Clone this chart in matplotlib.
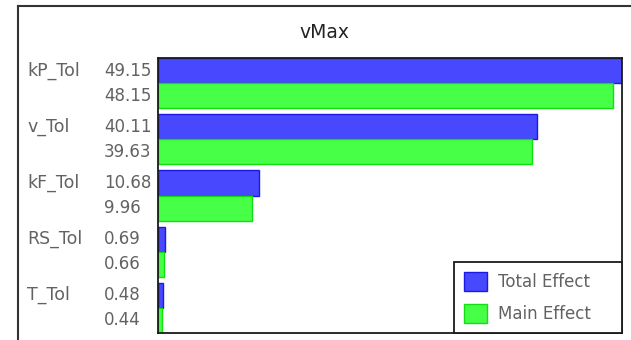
import matplotlib.pyplot as plt
import matplotlib.transforms as mtransforms
from matplotlib.patches import Patch
from matplotlib.lines import Line2D
import numpy as np

params = ['kP_Tol', 'v_Tol', 'kF_Tol', 'RS_Tol', 'T_Tol']
total_effect = [49.15, 40.11, 10.68, 0.69, 0.48]
main_effect = [48.15, 39.63, 9.96, 0.66, 0.44]

W, H = 631, 340
fig = plt.figure(figsize=(W / 100, H / 100), dpi=100)
plt.rcParams['font.family'] = 'DejaVu Sans'

# plot area in pixels: left 158, right 622, top 58, bottom 333
ax = fig.add_axes([158 / W, 1 - 333 / H, (622 - 158) / W, (333 - 58) / H])

bar_h = 25 / 56
pos = np.arange(len(params))
blue, blue_edge = '#4848ff', '#1a1ae6'
green, green_edge = '#48ff48', '#10e010'
ax.barh(pos, total_effect, height=bar_h, align='edge',
        color=blue, edgecolor=blue_edge, linewidth=1)
ax.barh(pos + bar_h, main_effect, height=bar_h, align='edge',
        color=green, edgecolor=green_edge, linewidth=1)

ax.set_xlim(0, max(total_effect))
ax.set_ylim(len(params) - 1 + 2 * bar_h, 0)
ax.set_xticks([])
ax.set_yticks([])
for s in ax.spines.values():
    s.set_color('#1a1a1a')
    s.set_linewidth(1.3)

# row labels on the left, names and values in two columns
gray = '#626262'
fs = 12
trans = mtransforms.blended_transform_factory(fig.transFigure, ax.transData)
for i, name in enumerate(params):
    yt = pos[i] + bar_h / 2
    ym = pos[i] + bar_h * 1.5
    ax.text(27 / W, yt, name, transform=trans, ha='left', va='center',
            color=gray, fontsize=12.5, clip_on=False)
    ax.text(104 / W, yt, f'{total_effect[i]:.2f}', transform=trans, ha='left',
            va='center', color=gray, fontsize=fs, clip_on=False)
    ax.text(104 / W, ym, f'{main_effect[i]:.2f}', transform=trans, ha='left',
            va='center', color=gray, fontsize=fs, clip_on=False)

fig.text(324.5 / W, 1 - 33 / H, 'vMax', ha='center', va='center',
         color='#222222', fontsize=13.5)

handles = [Patch(facecolor=blue, edgecolor=blue_edge, label='Total Effect'),
           Patch(facecolor=green, edgecolor=green_edge, label='Main Effect')]
leg = ax.legend(handles=handles, loc='lower left', mode='expand',
                bbox_to_anchor=(454 / W, 1 - 333 / H, (622 - 454) / W, 72 / H),
                bbox_transform=fig.transFigure, borderaxespad=0,
                fancybox=False, framealpha=1, edgecolor='#1a1a1a',
                fontsize=fs, handlelength=1.35, handleheight=1.4,
                labelspacing=0.75, handletextpad=0.7, borderpad=0.6)
leg.get_frame().set_linewidth(1.3)
for t in leg.get_texts():
    t.set_color(gray)

# outer panel border (left and top edges visible)
fig.add_artist(Line2D([18 / W, 18 / W], [0, 1 - 6 / H], transform=fig.transFigure,
                      color='#333333', linewidth=1.5))
fig.add_artist(Line2D([18 / W, 1], [1 - 6 / H, 1 - 6 / H], transform=fig.transFigure,
                      color='#333333', linewidth=1.5))

fig.savefig('out.png', dpi=100)
